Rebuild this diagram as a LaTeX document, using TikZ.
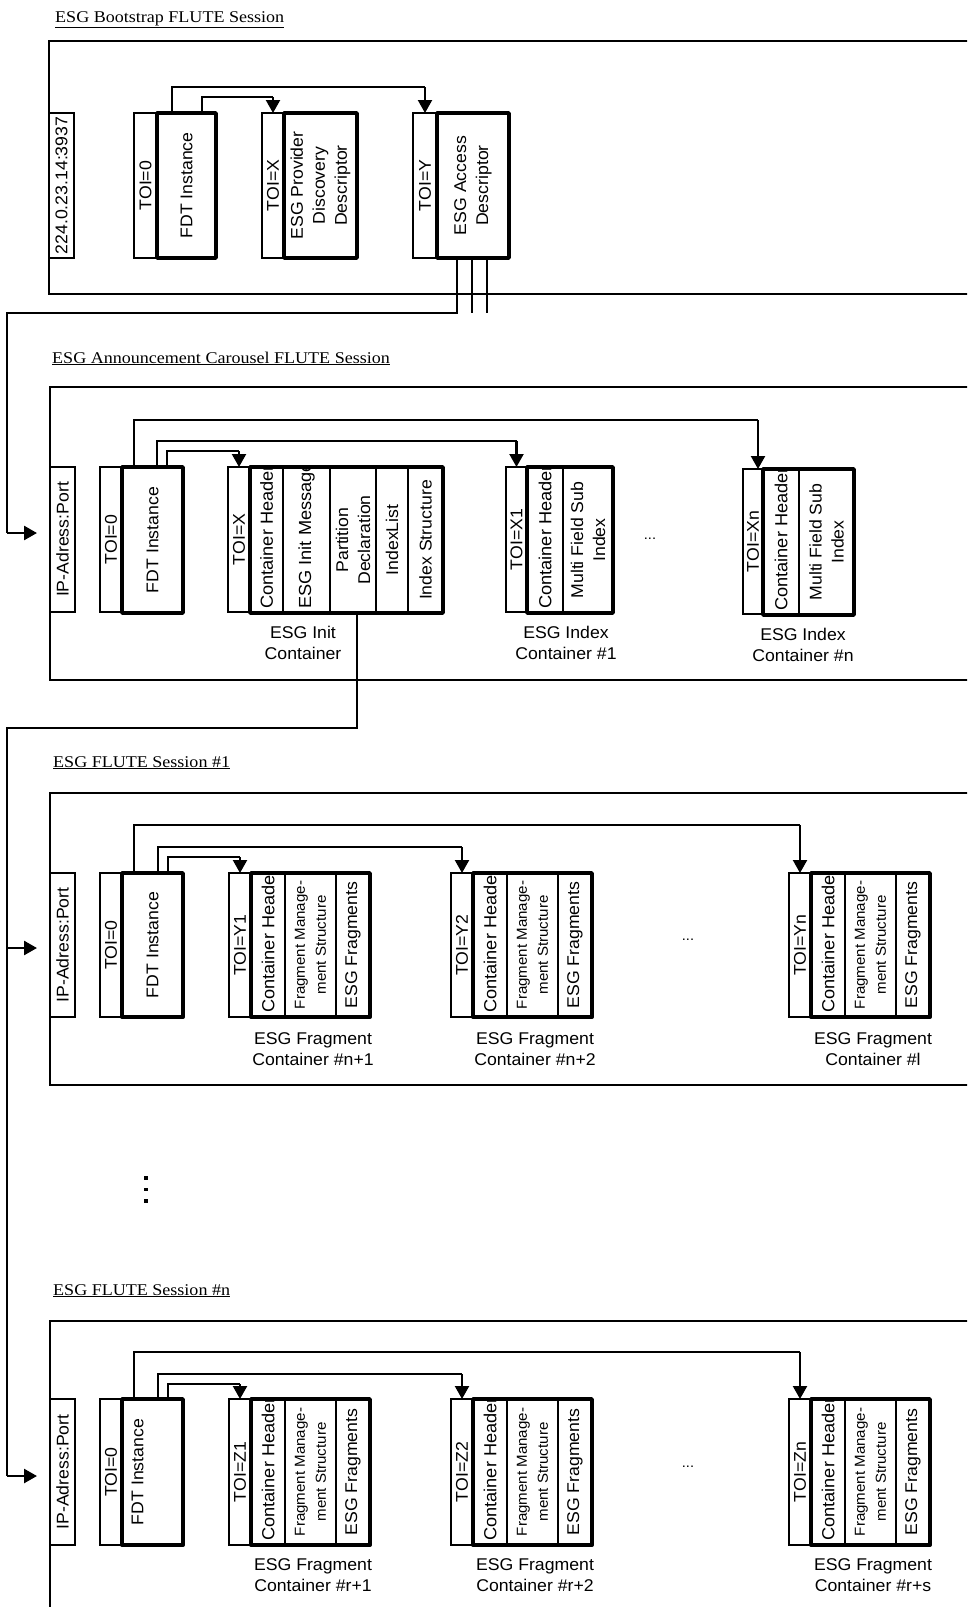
\documentclass[tikz,border=0pt]{standalone}
\usepackage{fontspec}
\setmainfont{Liberation Sans}
\newfontfamily\labfont[FakeStretch=1.04]{Liberation Sans}
\newfontfamily\ttlfont[FakeStretch=1.1]{Liberation Serif}
\usetikzlibrary{arrows.meta}
% box: style, name, x1, y1, x2, y2 (pixel coordinates, y downwards)
\newcommand\mybox[6]{\node[#1, minimum width={(#5)-(#3)}, minimum height={(#6)-(#4)}] (#2) at ({((#3)+(#5))/2},{((#4)+(#6))/2}) {};}
% fragment container: prefix, toi x, y1, y2, toi text, caption suffix, caption y
\newcommand\fragc[7]{%
  \mybox{thinbox}{#1toi}{#2}{#3}{#2+22}{#4}
  \mybox{thinbox}{#1ca}{#2+22}{#3}{#2+56}{#4}
  \mybox{thinbox}{#1cb}{#2+56}{#3}{#2+107}{#4}
  \mybox{thinbox}{#1cc}{#2+107}{#3}{#2+141}{#4}
  \mybox{thickbox}{#1}{#2+22}{#3}{#2+141}{#4}
  \node[lbl] (#1lt) at (#1toi.center) {#5};
  \begin{scope}
    \clip (#1ca.south west) rectangle (#1ca.north east);
    \node[biglbl, anchor=west] (#1la) at ([yshift=4pt]#1ca.south) {Container Header};
  \end{scope}
  \node[smalllbl] (#1lb) at (#1cb.center) {Fragment Manage-\\ment Structure};
  \node[lbl] (#1lc) at (#1cc.center) {ESG Fragments};
  \node[capt] (#1cap) at ({#2+84},#7) {ESG Fragment\\Container #6};
}
\begin{document}
\begin{tikzpicture}[x=1pt,y=-1pt,
  thinbox/.style={draw, line width=1.2pt, inner sep=0pt, outer sep=0pt},
  thickbox/.style={draw, line width=3.8pt, line join=round, inner sep=0pt, outer sep=0pt},
  frmbox/.style={draw, line width=1.3pt, inner sep=0pt, outer sep=0pt},
  lbl/.style={font=\labfont\fontsize{17}{22}\selectfont, rotate=90, align=center, inner sep=0pt},
  biglbl/.style={font=\labfont\fontsize{17.5}{22}\selectfont, rotate=90, inner sep=0pt},
  smalllbl/.style={font=\labfont\fontsize{14.5}{21}\selectfont, rotate=90, align=center, inner sep=0pt},
  capt/.style={font=\labfont\fontsize{17}{21}\selectfont, align=center, inner sep=0pt},
  ttl/.style={font=\ttlfont\fontsize{16.4}{19}\selectfont, anchor=base west, inner sep=0pt},
  dotsty/.style={font=\labfont\fontsize{14}{14}\selectfont, inner sep=0pt},
  conn/.style={line width=1.2pt},
  varr/.style={line width=2.2pt, -{Triangle[width=14pt,length=13pt]}},
  harr/.style={line width=2.6pt, -{Triangle[width=14pt,length=13pt]}},
]
\useasboundingbox (0,0) rectangle (967,1607);
\fill[white] (0,0) rectangle (967,1607);
\clip (0,0) rectangle (967,1607);

% ================= ESG Bootstrap FLUTE Session =================
\node[ttl] (tA) at (55,22) {\underline{ESG Bootstrap FLUTE Session}};
\mybox{frmbox}{frA}{49}{41}{1000}{294}
\mybox{thinbox}{ipA}{49}{113}{74}{258}
\mybox{thinbox}{toi0A}{134}{113}{157}{258}
\mybox{thickbox}{fdtA}{157}{113}{216}{258}
\mybox{thinbox}{toiXA}{262}{113}{284}{258}
\mybox{thickbox}{pddA}{284}{113}{357}{258}
\mybox{thinbox}{toiYA}{413}{113}{437}{258}
\mybox{thickbox}{adA}{437}{113}{509}{258}
\node[lbl] (lipA) at (ipA.center) {224.0.23.14:3937};
\node[lbl] (ltoi0A) at (toi0A.center) {TOI=0};
\node[lbl] (lfdtA) at (fdtA.center) {FDT Instance};
\node[lbl] (ltoiXA) at (toiXA.center) {TOI=X};
\node[lbl] (lpddA) at (pddA.center) {ESG Provider\\Discovery\\Descriptor};
\node[lbl] (ltoiYA) at (toiYA.center) {TOI=Y};
\node[lbl] (ladA) at (adA.center) {ESG Access\\Descriptor};
\draw[conn] ([xshift=45pt]fdtA.north west) |- (toiXA.north |- 0,97);
\draw[varr] (toiXA.north |- 0,97) -- (toiXA.north);
\draw[conn] ([xshift=15pt]fdtA.north west) |- (toiYA.north |- 0,87);
\draw[varr] (toiYA.north |- 0,87) -- (toiYA.north);
% bus from access descriptor
\coordinate (busA) at (7,313);
\coordinate (tipB) at (37,533);
\coordinate (stA2) at (472,313);
\coordinate (stA3) at (487,313);
\draw[conn] ([xshift=20pt]adA.south west) |- (busA) -- (busA |- tipB);
\draw[harr] (busA |- tipB) -- (tipB);
\draw[conn] ([xshift=35pt]adA.south west) -- (stA2);
\draw[conn] ([xshift=50pt]adA.south west) -- (stA3);

% ================= ESG Announcement Carousel FLUTE Session =================
\node[ttl] (tB) at (52,363) {\underline{ESG Announcement Carousel FLUTE Session}};
\mybox{frmbox}{frB}{50}{387}{1000}{680}
\mybox{thinbox}{ipB}{50}{467}{75}{612}
\mybox{thinbox}{toi0B}{100}{467}{122}{612}
\mybox{thickbox}{fdtB}{122}{467}{183}{613}
\mybox{thinbox}{toiXB}{228}{467}{250}{612}
\mybox{thinbox}{ihB}{250}{467}{283}{613}
\mybox{thinbox}{imB}{283}{467}{330}{613}
\mybox{thinbox}{pdB}{330}{467}{376}{613}
\mybox{thinbox}{ilB}{376}{467}{408}{613}
\mybox{thinbox}{isB}{408}{467}{443}{613}
\mybox{thickbox}{initB}{250}{467}{443}{613}
\mybox{thinbox}{toiX1B}{506}{467}{527}{612}
\mybox{thinbox}{chX1B}{527}{467}{563}{613}
\mybox{thinbox}{mfX1B}{563}{467}{613}{613}
\mybox{thickbox}{idx1B}{527}{467}{613}{613}
\mybox{thinbox}{toiXnB}{743}{469}{763}{614}
\mybox{thinbox}{chXnB}{763}{469}{799}{615}
\mybox{thinbox}{mfXnB}{799}{469}{854}{615}
\mybox{thickbox}{idxnB}{763}{469}{854}{615}
\node[lbl] (lipB) at (ipB.center) {IP-Adress:Port};
\node[lbl] (ltoi0B) at (toi0B.center) {TOI=0};
\node[lbl] (lfdtB) at (fdtB.center) {FDT Instance};
\node[lbl] (ltoiXB) at (toiXB.center) {TOI=X};
\begin{scope}
  \clip (ihB.south west) rectangle (ihB.north east);
  \node[biglbl, anchor=west] (lihB) at ([yshift=4pt]ihB.south) {Container Header};
\end{scope}
\begin{scope}
  \clip (imB.south west) rectangle (imB.north east);
  \node[biglbl, anchor=west] (limB) at ([yshift=4pt]imB.south) {ESG Init Message};
\end{scope}
\node[lbl] (lpdB) at (pdB.center) {Partition\\Declaration};
\node[lbl] (lilB) at (ilB.center) {IndexList};
\node[lbl] (lisB) at (isB.center) {Index Structure};
\node[lbl] (ltoiX1B) at (toiX1B.center) {TOI=X1};
\begin{scope}
  \clip (chX1B.south west) rectangle (chX1B.north east);
  \node[biglbl, anchor=west] (lchX1B) at ([yshift=4pt]chX1B.south) {Container Header};
\end{scope}
\node[lbl] (lmfX1B) at (mfX1B.center) {Multi Field Sub\\Index};
\node[lbl] (ltoiXnB) at (toiXnB.center) {TOI=Xn};
\begin{scope}
  \clip (chXnB.south west) rectangle (chXnB.north east);
  \node[biglbl, anchor=west] (lchXnB) at ([yshift=4pt]chXnB.south) {Container Header};
\end{scope}
\node[lbl] (lmfXnB) at (mfXnB.center) {Multi Field Sub\\Index};
\node[capt] (cinitB) at (303,643) {ESG Init\\Container};
\node[capt] (cidx1B) at (566,643) {ESG Index\\Container \#1};
\node[capt] (cidxnB) at (803,645) {ESG Index\\Container \#n};
\node[dotsty] (dB) at (650,539) {...};
\draw[conn] ([xshift=45pt]fdtB.north west) |- (toiXB.north |- 0,451);
\draw[varr] (toiXB.north |- 0,451) -- (toiXB.north);
\draw[conn] ([xshift=35pt]fdtB.north west) |- (toiX1B.north |- 0,441);
\draw[varr] (toiX1B.north |- 0,441) -- (toiX1B.north);
\coordinate (tXn) at ([xshift=15pt]toiXnB.north west);
\draw[conn] ([xshift=12pt]fdtB.north west) |- (tXn |- 0,420);
\draw[varr] (tXn |- 0,420) -- (tXn);
% bus from init container
\coordinate (busB) at (7,728);
\coordinate (tipS) at (37,948);
\coordinate (tipN) at (37,1476);
\draw[conn] ([xshift=107pt]initB.south west) |- (busB) -- (busB |- tipN);
\draw[harr] (busB |- tipS) -- (tipS);
\draw[harr] (busB |- tipN) -- (tipN);

% ================= ESG FLUTE Session #1 =================
\node[ttl] (tS) at (53,767) {\underline{ESG FLUTE Session \#1}};
\mybox{frmbox}{frS}{50}{793}{1000}{1085}
\mybox{thinbox}{ipS}{50}{873}{75}{1017}
\mybox{thinbox}{toi0S}{100}{873}{122}{1017}
\mybox{thickbox}{fdtS}{122}{873}{183}{1017}
\node[lbl] (lipS) at (ipS.center) {IP-Adress:Port};
\node[lbl] (ltoi0S) at (toi0S.center) {TOI=0};
\node[lbl] (lfdtS) at (fdtS.center) {FDT Instance};
\fragc{sA}{229}{873}{1017}{TOI=Y1}{\#n+1}{1049}
\fragc{sB}{451}{873}{1017}{TOI=Y2}{\#n+2}{1049}
\fragc{sC}{789}{873}{1017}{TOI=Yn}{\#l}{1049}
\node[dotsty] (dS) at (688,940) {...};
\draw[conn] ([xshift=46pt]fdtS.north west) |- (sAtoi.north |- 0,857);
\draw[varr] (sAtoi.north |- 0,857) -- (sAtoi.north);
\draw[conn] ([xshift=36pt]fdtS.north west) |- (sBtoi.north |- 0,847);
\draw[varr] (sBtoi.north |- 0,847) -- (sBtoi.north);
\draw[conn] ([xshift=12pt]fdtS.north west) |- (sCtoi.north |- 0,825);
\draw[varr] (sCtoi.north |- 0,825) -- (sCtoi.north);

% vertical dots
\fill (144.3,1176.3) rectangle ++(3.5,3.5);
\fill (144.3,1187.8) rectangle ++(3.5,3.5);
\fill (144.3,1199.3) rectangle ++(3.5,3.5);

% ================= ESG FLUTE Session #n =================
\node[ttl] (tN) at (53,1295) {\underline{ESG FLUTE Session \#n}};
\mybox{frmbox}{frN}{50}{1321}{1000}{1650}
\mybox{thinbox}{ipN}{50}{1399}{75}{1545}
\mybox{thinbox}{toi0N}{100}{1399}{122}{1545}
\mybox{thickbox}{fdtN}{122}{1399}{183}{1545}
\node[lbl] (lipN) at (ipN.center) {IP-Adress:Port};
\node[lbl] (ltoi0N) at (toi0N.center) {TOI=0};
\node[lbl] (lfdtN) at ([xshift=-15pt]fdtN.center) {FDT Instance};
\fragc{nA}{229}{1399}{1545}{TOI=Z1}{\#r+1}{1575}
\fragc{nB}{451}{1399}{1545}{TOI=Z2}{\#r+2}{1575}
\fragc{nC}{789}{1399}{1545}{TOI=Zn}{\#r+s}{1575}
\node[dotsty] (dN) at (688,1467) {...};
\draw[conn] ([xshift=46pt]fdtN.north west) |- (nAtoi.north |- 0,1384);
\draw[varr] (nAtoi.north |- 0,1384) -- (nAtoi.north);
\draw[conn] ([xshift=36pt]fdtN.north west) |- (nBtoi.north |- 0,1374);
\draw[varr] (nBtoi.north |- 0,1374) -- (nBtoi.north);
\draw[conn] ([xshift=12pt]fdtN.north west) |- (nCtoi.north |- 0,1352);
\draw[varr] (nCtoi.north |- 0,1352) -- (nCtoi.north);
\end{tikzpicture}
\end{document}
